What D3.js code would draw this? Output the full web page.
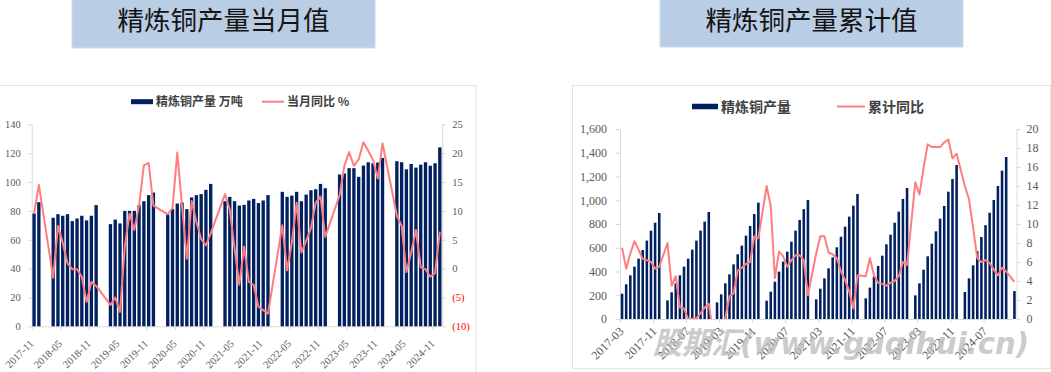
<!DOCTYPE html>
<html>
<head>
<meta charset="utf-8">
<script src="https://cdn.jsdelivr.net/npm/d3@7"></script>
<style>
  body { margin: 0; background: #fff; }
  svg { display: block; }
</style>
</head>
<body>
<script>
// ---- data: monthly refined copper output (万吨) and YoY %, Jan/Feb not published ----
var monthlyFirst = "2017-11", monthlyLast = "2024-12";
var monthlyOutput = [
  78.2, 86.0,
  null, null, 75.2, 77.7, 76.6, 77.7, 72.9, 74.7, 76.6, 73.4, 76.6, 84.0,
  null, null, 70.8, 74.0, 71.3, 80.0, 80.0, 80.0, 84.0, 86.7, 90.9, 92.7,
  null, null, 77.5, 81.2, 85.1, 85.8, 81.2, 89.3, 90.9, 91.6, 94.6, 98.7,
  null, null, 86.7, 89.7, 86.7, 83.7, 84.2, 87.2, 88.3, 85.4, 87.2, 90.9,
  null, null, 93.2, 89.7, 90.6, 93.2, 86.7, 91.3, 94.3, 95.0, 98.7, 95.7,
  null, null, 105.2, 105.9, 109.6, 109.6, 103.6, 111.4, 113.7, 113.0, 113.5, 116.7,
  null, null, 114.4, 113.7, 108.8, 112.5, 110.0, 112.0, 113.7, 111.3, 113.0, 124.0
];
var monthlyYoY = [
  9.5, 14.5,
  null, null, -1.6, 7.4, 4.5, 0.9, -0.1, -0.1, -1.4, -5.8, -2.3, -3.0,
  null, null, -6.3, -5.0, -7.5, 3.8, 9.5, 6.7, 11.0, 17.9, 18.3, 10.9,
  null, null, 9.4, 10.5, 20.1, 10.8, 1.7, 11.7, 8.1, 5.1, 4.0, 6.1,
  null, null, 12.9, 10.2, 3.5, -2.8, 3.8, -2.3, -2.8, -6.6, -7.2, -7.8,
  null, null, 7.5, -0.3, 4.5, 11.4, 2.8, 4.8, 7.0, 11.4, 12.5, 5.5,
  null, null, 12.7, 17.8, 20.2, 17.8, 18.9, 21.9, 20.4, 18.8, 15.6, 21.7,
  null, null, 9.2, 7.4, -0.6, 2.8, 6.7, 0.2, -0.1, -1.4, -0.8, 6.4
];
var monthlyTicks = ["2017-11", "2018-05", "2018-11", "2019-05", "2019-11", "2020-05", "2020-11",
  "2021-05", "2021-11", "2022-05", "2022-11", "2023-05", "2023-11", "2024-05", "2024-11"];
var monthlyLeftTicks = [0, 20, 40, 60, 80, 100, 120, 140];
var monthlyRightTicks = [-10, -5, 0, 5, 10, 15, 20, 25];

// ---- data: cumulative output (万吨) and cumulative YoY %, January not published ----
var cumFirst = "2017-03", cumLast = "2025-02";
var cumOutput = [
  213, 292, 368, 441, 508, 581, 660, 744, 811, 893,
  null, 157, 225, 300, 368, 441, 508, 584, 660, 744, 820, 901,
  null, 140, 208, 300, 376, 460, 545, 618, 702, 783, 884, 980,
  null, 154, 230, 314, 399, 483, 567, 651, 744, 834, 925, 1002,
  null, 166, 255, 342, 427, 519, 604, 693, 778, 862, 954, 1053,
  null, 174, 264, 356, 446, 533, 629, 710, 811, 904, 1011, 1103,
  null, 199, 300, 415, 528, 634, 738, 845, 952, 1072, 1179, 1297,
  null, 228, 342, 452, 572, 690, 790, 895, 1002, 1120, 1249, 1364,
  null, 235
];
var cumYoY = [
  7.5, 5.3, 6.9, 8.2, 7.3, 6.3, 6.2, 6.0, 5.3, 5.5,
  null, 8.0, 3.5, 4.5, 1.2, 1.1, 0.0, 0.0, 0.1, 0.6, 1.2, 1.6,
  null, -4.5, -2.0, 0.1, 2.4, 2.7, 5.1, 5.4, 5.8, 6.0, 8.7, 8.5,
  null, 14.0, 11.9, 4.3, 7.1, 6.6, 5.5, 6.2, 6.7, 6.7, 6.2, 2.5,
  null, 6.9, 8.7, 8.7, 7.0, 6.8, 6.4, 5.0, 4.1, 2.9, 1.1, 4.6,
  null, 4.5, 6.4, 4.6, 3.8, 3.7, 3.5, 3.8, 4.0, 4.5, 6.0, 5.7,
  null, 14.4, 13.1, 15.9, 18.4, 18.1, 18.1, 18.1, 18.6, 18.9, 16.9, 17.4,
  null, 14.0, 12.6, 9.6, 6.4, 6.0, 6.2, 5.9, 5.2, 4.6, 5.4, 5.0,
  null, 3.9
];
var cumTicks = ["2017-03", "2017-11", "2018-07", "2019-03", "2019-11", "2020-07",
  "2021-03", "2021-11", "2022-07", "2023-03", "2023-11", "2024-07"];
var cumLeftTicks = [0, 200, 400, 600, 800, 1000, 1200, 1400, 1600];
var cumRightTicks = [0, 2, 4, 6, 8, 10, 12, 14, 16, 18, 20];

var BAR = "#002060", LINE = "#ff7c80", GRID = "#d9d9d9", LABEL = "#595959";

var parseMonth = d3.timeParse("%Y-%m"), fmtMonth = d3.timeFormat("%Y-%m");
function monthList(a, b) {
  return d3.timeMonth.range(parseMonth(a), d3.timeMonth.offset(parseMonth(b), 1)).map(fmtMonth);
}

var svg = d3.select("body").append("svg")
  .attr("width", 1051)
  .attr("height", 372);

function drawPanel(p) {
  var g = svg.append("g");

  // chart frame
  g.append("rect")
    .attr("x", p.frame[0]).attr("y", p.frame[1])
    .attr("width", p.frame[2]).attr("height", p.frame[3])
    .attr("fill", "#fff").attr("stroke", "#e3e3e3");

  // title box
  g.append("rect")
    .attr("x", p.titleBox[0]).attr("y", -1)
    .attr("width", p.titleBox[1]).attr("height", p.titleBox[2])
    .attr("fill", "#b9cde5").attr("stroke", "#cddbee");
  g.append("text")
    .attr("x", p.titleBox[0] + p.titleBox[1] / 2).attr("y", 30)
    .attr("text-anchor", "middle")
    .style("font-family", "'Noto Sans CJK SC'")
    .style("font-size", "26.5px")
    .style("fill", "#141414")
    .text(p.title);

  var months = monthList(p.first, p.last);
  var x = d3.scaleBand().domain(months).range([p.x0, p.x1]);
  var xt = d3.scalePoint().domain(months).range([p.x0, p.x1 - x.bandwidth()]);
  var yL = d3.scaleLinear().domain(p.leftDomain).range([p.yBottom, p.yTop]);
  var yR = d3.scaleLinear().domain(p.rightDomain).range([p.yBottom, p.yTop]);

  var rows = months.map(function(m, i) {
    return {m: m, bar: p.bars[i], line: p.line[i]};
  });

  // axes
  var ax = g.append("g")
    .attr("transform", "translate(0," + p.yBottom + ")")
    .call(d3.axisBottom(xt).tickValues(p.ticks).tickSize(4).tickSizeOuter(0));
  ax.selectAll("text")
    .attr("x", 0).attr("y", 0).attr("dy", 0)
    .attr("transform", "translate(" + p.xLabelOff[0] + "," + p.xLabelOff[1] + ") rotate(-45)")
    .style("text-anchor", "end");

  var al = g.append("g")
    .attr("transform", "translate(" + p.x0 + ",0)")
    .call(d3.axisLeft(yL).tickValues(p.leftTicks).tickSize(4).tickSizeOuter(0)
      .tickPadding(p.padL).tickFormat(p.leftFormat));
  var ar = g.append("g")
    .attr("transform", "translate(" + p.x1 + ",0)")
    .call(d3.axisRight(yR).tickValues(p.rightTicks).tickSize(4).tickSizeOuter(0)
      .tickPadding(p.padR).tickFormat(function(d) { return d < 0 ? "(" + (-d) + ")" : d; }));
  ar.selectAll("text").style("fill", function(d) { return d < 0 ? "#ff0000" : LABEL; });

  [ax, al, ar].forEach(function(a) {
    a.select(".domain").attr("stroke", GRID);
    a.selectAll(".tick line").attr("stroke", GRID);
    a.selectAll("text")
      .style("font-family", "'Liberation Serif', 'Times New Roman', serif")
      .style("font-size", p.fontSize + "px");
  });
  ax.selectAll("text").style("fill", LABEL);
  al.selectAll("text").style("fill", LABEL);

  // bars
  g.append("g").selectAll("rect")
    .data(rows.filter(function(d) { return d.bar != null; }))
    .enter().append("rect")
    .attr("x", function(d) { return x(d.m) + x.bandwidth() * (1 - p.barFrac) / 2; })
    .attr("width", x.bandwidth() * p.barFrac)
    .attr("y", function(d) { return yL(d.bar); })
    .attr("height", function(d) { return p.yBottom - yL(d.bar); })
    .attr("fill", BAR);

  // YoY line, points joined across the unpublished months
  var clipId = "clip" + p.id;
  svg.append("clipPath").attr("id", clipId)
    .append("rect")
    .attr("x", p.x0).attr("y", p.yTop - 2)
    .attr("width", p.x1 - p.x0).attr("height", p.yBottom - p.yTop + 2);
  var line = d3.line()
    .x(function(d) { return x(d.m) + x.bandwidth() / 2; })
    .y(function(d) { return yR(d.line); });
  g.append("path")
    .datum(rows.filter(function(d) { return d.line != null; }))
    .attr("clip-path", "url(#" + clipId + ")")
    .attr("d", line)
    .attr("fill", "none")
    .attr("stroke", LINE)
    .attr("stroke-width", 2)
    .attr("stroke-linejoin", "round");

  // legend
  var lg = g.append("g")
    .style("font-family", "'Noto Sans CJK SC'")
    .style("font-weight", "bold")
    .style("font-size", p.legend.size + "px")
    .style("fill", "#404040");
  lg.append("rect")
    .attr("x", p.legend.bar[0]).attr("y", p.legend.y - p.legend.barH / 2)
    .attr("width", p.legend.bar[1] - p.legend.bar[0]).attr("height", p.legend.barH)
    .attr("fill", BAR);
  lg.append("text")
    .attr("x", p.legend.bar[1] + 3).attr("y", p.legend.y + p.legend.size * 0.36)
    .text(p.legend.barText);
  lg.append("line")
    .attr("x1", p.legend.line[0]).attr("x2", p.legend.line[1])
    .attr("y1", p.legend.y).attr("y2", p.legend.y)
    .attr("stroke", LINE).attr("stroke-width", 2);
  lg.append("text")
    .attr("x", p.legend.line[1] + 3).attr("y", p.legend.y + p.legend.size * 0.36)
    .text(p.legend.lineText);

  return g;
}

drawPanel({
  id: "m",
  frame: [-1, 85.5, 477, 300],
  titleBox: [72, 303, 49],
  title: "精炼铜产量当月值",
  first: monthlyFirst, last: monthlyLast,
  bars: monthlyOutput, line: monthlyYoY,
  ticks: monthlyTicks,
  leftTicks: monthlyLeftTicks, rightTicks: monthlyRightTicks,
  leftDomain: [0, 140], rightDomain: [-10, 25],
  leftFormat: d3.format("d"),
  x0: 31.7, x1: 442.2, yTop: 124.3, yBottom: 326.3,
  barFrac: 0.7, fontSize: 10.5, padL: 7, padR: 6,
  xLabelOff: [2, 18],
  legend: {y: 101.7, size: 12, bar: [131, 153], barH: 5, line: [262, 284],
    barText: "精炼铜产量 万吨", lineText: "当月同比 %"}
});

drawPanel({
  id: "c",
  frame: [572.5, 85.5, 478, 283],
  titleBox: [660, 303, 48],
  title: "精炼铜产量累计值",
  first: cumFirst, last: cumLast,
  bars: cumOutput, line: cumYoY,
  ticks: cumTicks,
  leftTicks: cumLeftTicks, rightTicks: cumRightTicks,
  leftDomain: [0, 1600], rightDomain: [0, 20],
  leftFormat: d3.format(","),
  x0: 620, x1: 1016.5, yTop: 129, yBottom: 319,
  barFrac: 0.62, fontSize: 12, padL: 9, padR: 6,
  xLabelOff: [4, 13],
  legend: {y: 106.5, size: 14, bar: [692, 718], barH: 5.5, line: [837, 865],
    barText: "精炼铜产量", lineText: "累计同比"}
});

// watermark over the right chart
svg.append("text")
  .attr("x", 653).attr("y", 354)
  .attr("textLength", 376)
  .attr("lengthAdjust", "spacingAndGlyphs")
  .style("font-family", "'DejaVu Sans', 'Noto Sans CJK SC'")
  .style("font-weight", "bold")
  .style("font-style", "italic")
  .style("font-size", "31px")
  .style("fill", "#bdbdbd")
  .style("fill-opacity", 0.8)
  .text("股期汇(www.guqihui.cn)");
</script>
</body>
</html>
